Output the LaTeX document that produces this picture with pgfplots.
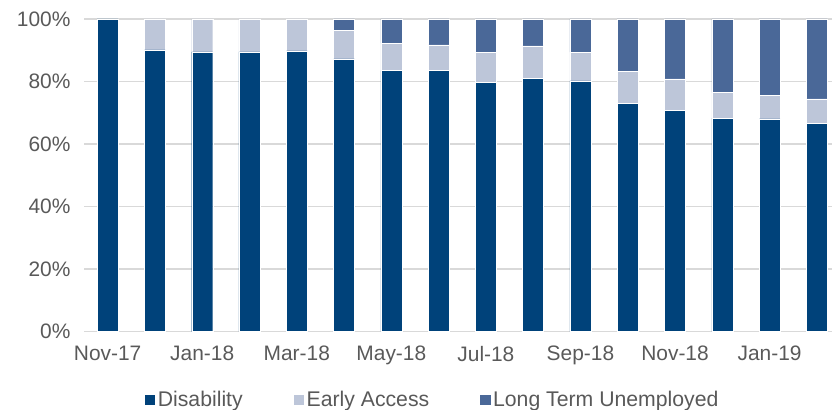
\documentclass[border=0pt]{standalone}
\usepackage{fontspec}
\setmainfont{Liberation Sans}
\usepackage{pgfplots}
\pgfplotsset{compat=1.18}
\definecolor{dis}{RGB}{0,66,122}
\definecolor{ea}{RGB}{189,198,217}
\definecolor{ltu}{RGB}{74,104,152}
\definecolor{txt}{RGB}{89,89,89}
\definecolor{grd}{RGB}{217,217,217}
\begin{document}
\begin{tikzpicture}
\begin{axis}[
  at={(0,0)}, anchor=south west,
  scale only axis,
  width=748bp, height=312.5bp,
  ybar stacked, bar width=21bp,
  xmin=-0.5, xmax=15.32,
  ymin=0, ymax=100,
  axis line style={draw=none},
  axis x line*=bottom,
  ytick={0,20,40,60,80,100},
  yticklabel={\pgfmathprintnumber{\tick}\%},
  ymajorgrids, grid style={grd, line width=1.2bp},
  extra y ticks={0}, extra y tick style={grid style={grd,line width=1.5bp}, yticklabel=\empty},
  xtick={0,2,4,6,8,10,12,14},
  xticklabels={Nov-17,Jan-18,Mar-18,May-18,Jul-18,Sep-18,Nov-18,Jan-19},
  major tick length=0pt,
  tick label style={font=\fontsize{21}{24}\selectfont, text=txt},
  /pgf/number format/assume math mode=true,
  yticklabel style={xshift=-10bp},
  xticklabel style={yshift=-11bp},
  legend columns=3,
  legend style={draw=none, at={(0.4655,-0.219)}, anchor=center,
    font=\fontsize{21.3}{24}\selectfont, text=txt,
    inner sep=0pt,
    /tikz/every even column/.append style={column sep=48bp}},
  legend image code/.code={\fill[#1] (0bp,-5.75bp) rectangle (11.5bp,5.75bp);},
]
\addplot[fill=dis, draw=white, line width=0.4bp] coordinates {(0,100) (1,90.1) (2,89.5) (3,89.5) (4,89.8) (5,87.2) (6,83.5) (7,83.6) (8,79.7) (9,80.9) (10,80.2) (11,73.0) (12,70.8) (13,68.3) (14,68.0) (15,66.7)};
\addplot[fill=ea, draw=white, line width=0.4bp] coordinates {(0,0) (1,9.9) (2,10.5) (3,10.5) (4,10.2) (5,9.2) (6,8.7) (7,8.1) (8,9.6) (9,10.5) (10,9.2) (11,10.3) (12,10.0) (13,8.2) (14,7.5) (15,7.7)};
\addplot[fill=ltu, draw=white, line width=0.4bp] coordinates {(0,0) (1,0) (2,0) (3,0) (4,0) (5,3.6) (6,7.8) (7,8.3) (8,10.7) (9,8.6) (10,10.6) (11,16.7) (12,19.2) (13,23.5) (14,24.5) (15,25.6)};
\legend{Disability, Early Access, Long Term Unemployed}
\end{axis}
\pgfresetboundingbox
\useasboundingbox (-84bp,-78.5bp) rectangle (748bp,331.5bp);
\end{tikzpicture}
\end{document}
